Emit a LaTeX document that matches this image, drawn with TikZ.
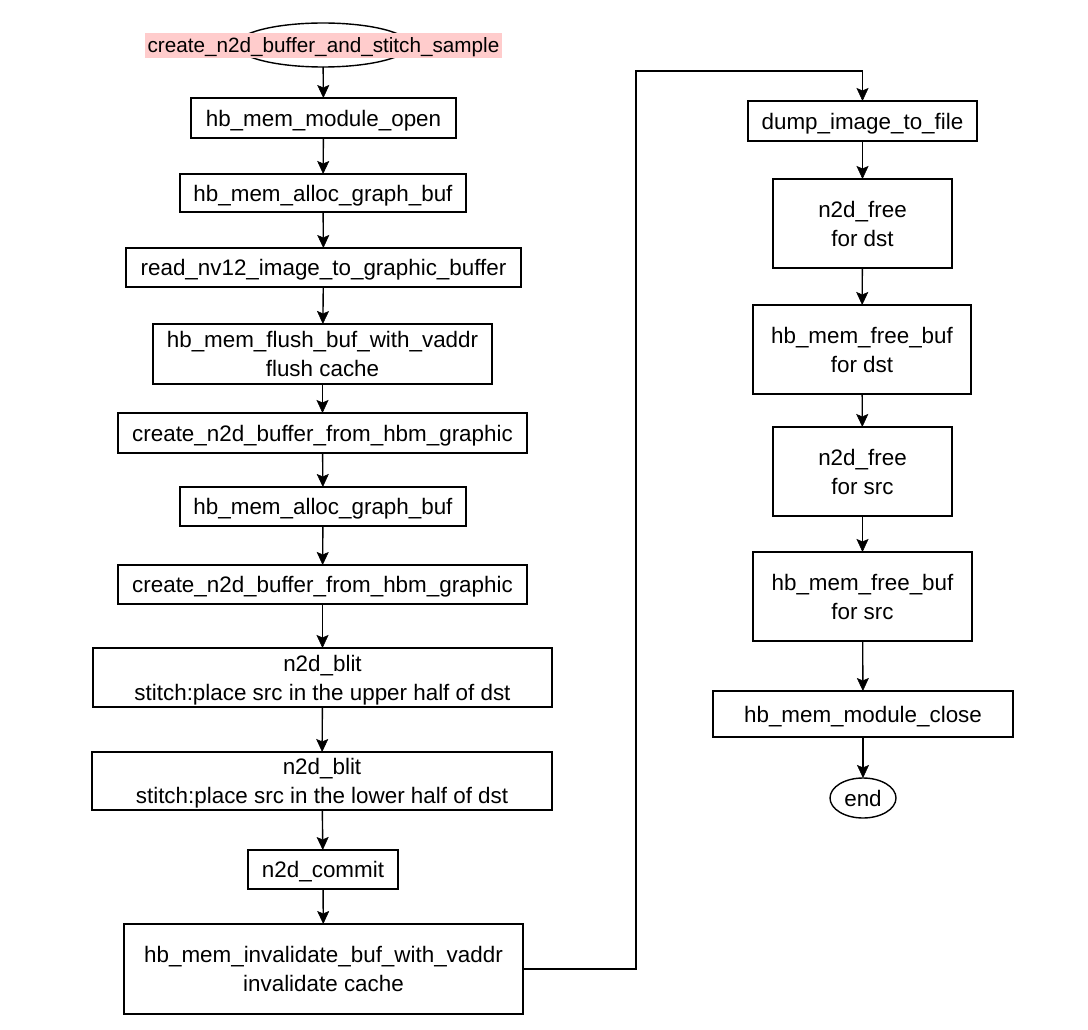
\documentclass[tikz,border=0pt]{standalone}
\usepackage{fontspec}
\setmainfont{Liberation Sans}
\usetikzlibrary{arrows.meta,shapes.geometric}
\definecolor{pinkhl}{HTML}{FFCCCC}
\begin{document}
\begin{tikzpicture}[x=1pt,y=-1pt,
  every node/.style={font=\fontsize{22.4}{29}\selectfont, inner sep=0pt, outer sep=0pt},
  box/.style={draw, line width=1.4pt, rectangle, align=center, fill=white, text depth=0pt},
  oval/.style={draw, line width=1.4pt, ellipse, fill=white},
  conn/.style={draw, line width=1.4pt, -{Stealth[length=13pt,width=12pt,inset=2.5pt,line width=0.5pt]}}]
\useasboundingbox (0,0) rectangle (1088,1030);
% start
\node[oval, minimum width=173pt, minimum height=44pt] (start) at (323,45) {};
\node[fill=pinkhl, minimum width=357pt, minimum height=25pt, text depth=0pt,
      font=\fontsize{20.7}{26}\selectfont] (startlbl) at (323.5,45.5) {create\_n2d\_buffer\_and\_stitch\_sample};
% left column
\node[box, minimum width=265pt, minimum height=40pt] (b1) at (323.5,118) {hb\_mem\_module\_open};
\node[box, minimum width=286pt, minimum height=38pt] (b2) at (323,193) {hb\_mem\_alloc\_graph\_buf};
\node[box, minimum width=395pt, minimum height=39pt] (b3) at (323.5,267.5) {read\_nv12\_image\_to\_graphic\_buffer};
\node[box, minimum width=339pt, minimum height=60pt] (b4) at (322.5,354) {hb\_mem\_flush\_buf\_with\_vaddr\\flush cache};
\node[box, minimum width=409pt, minimum height=40pt] (b5) at (322.5,433) {create\_n2d\_buffer\_from\_hbm\_graphic};
\node[box, minimum width=286pt, minimum height=39pt] (b6) at (323,506.5) {hb\_mem\_alloc\_graph\_buf};
\node[box, minimum width=409pt, minimum height=39pt] (b7) at (322.5,584.5) {create\_n2d\_buffer\_from\_hbm\_graphic};
\node[box, minimum width=459pt, minimum height=59pt] (b8) at (322.5,677.5) {n2d\_blit\\stitch:place src in the upper half of dst};
\node[box, minimum width=460pt, minimum height=58pt] (b9) at (322,781) {n2d\_blit\\stitch:place src in the lower half of dst};
\node[box, minimum width=150pt, minimum height=39pt] (b10) at (323,869.5) {n2d\_commit};
\node[box, minimum width=399pt, minimum height=90pt] (b11) at (323.5,969) {hb\_mem\_invalidate\_buf\_with\_vaddr\\invalidate cache};
% right column
\node[box, minimum width=229pt, minimum height=40pt] (r1) at (862.5,121) {dump\_image\_to\_file};
\node[box, minimum width=179pt, minimum height=89pt] (r2) at (862.5,223.5) {n2d\_free\\for dst};
\node[box, minimum width=218pt, minimum height=89pt] (r3) at (862,349.5) {hb\_mem\_free\_buf\\for dst};
\node[box, minimum width=179pt, minimum height=89pt] (r4) at (862.5,471.5) {n2d\_free\\for src};
\node[box, minimum width=219pt, minimum height=89pt] (r5) at (862.5,596.5) {hb\_mem\_free\_buf\\for src};
\node[box, minimum width=300pt, minimum height=46pt] (r6) at (863,714) {hb\_mem\_module\_close};
\node[oval, minimum width=66pt, minimum height=40pt, text depth=0pt] (end) at (863,798) {end};
% connectors
\draw[conn] (start) -- (b1);
\draw[conn] (b1) -- (b2);
\draw[conn] (b2) -- (b3);
\draw[conn] (b3) -- (b4);
\draw[conn] (b4) -- (b5);
\draw[conn] (b5) -- (b6);
\draw[conn] (b6) -- (b7);
\draw[conn] (b7) -- (b8);
\draw[conn] (b8) -- (b9);
\draw[conn] (b9) -- (b10);
\draw[conn] (b10) -- (b11);
\coordinate (turn) at (636,71);
\draw[conn] (b11.east) -| (turn) -| (r1.north);
\draw[conn] (r1) -- (r2);
\draw[conn] (r2) -- (r3);
\draw[conn] (r3) -- (r4);
\draw[conn] (r4) -- (r5);
\draw[conn] (r5) -- (r6);
\draw[conn] (r6) -- (end);
\end{tikzpicture}
\end{document}
